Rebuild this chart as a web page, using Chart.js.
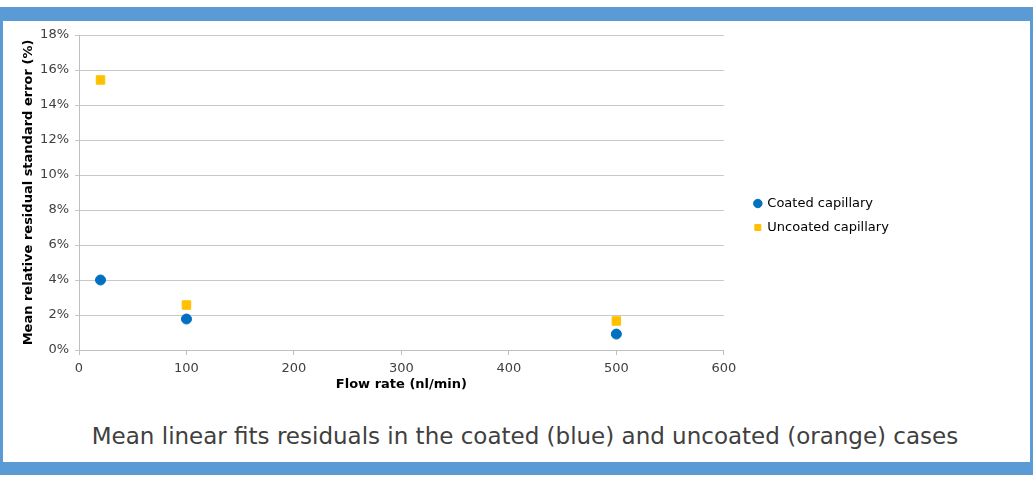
<!DOCTYPE html>
<html>
<head>
<meta charset="utf-8">
<script src="https://cdn.jsdelivr.net/npm/chart.js@4"></script>
<style>
  body { margin: 0; background: #fff; width: 1033px; height: 477px; overflow: hidden; position: relative; font-family: "DejaVu Sans", sans-serif; }
  /* blue frame round the figure */
  #frame { position: absolute; left: 0; top: 7px; width: 1033px; height: 468px; box-sizing: border-box;
           border-style: solid; border-color: #5b9bd5; border-width: 14px 3px 13px 3px; }
  #box { position: absolute; left: 3px; top: 21px; width: 1027px; height: 375px; }
  #caption { position: absolute; left: 0; top: 423px; width: 1050px; text-align: center; font-size: 23px; color: #404040; }
</style>
</head>
<body>
<div id="frame"></div>
<div id="box"><canvas id="myChart"></canvas></div>
<div id="caption">Mean linear fits residuals in the coated (blue) and uncoated (orange) cases</div>
<script>
// flow rates (nl/min)
const flowRates = [20, 100, 500];
// mean relative residual standard error, in %
const coated = [4.0, 1.77, 0.91];
const uncoated = [15.43, 2.57, 1.66];

const seriesNames = ["Coated capillary", "Uncoated capillary"];
const xTicks = [0, 100, 200, 300, 400, 500, 600];
const yTicks = [0, 2, 4, 6, 8, 10, 12, 14, 16, 18];

Chart.defaults.font.family = "DejaVu Sans";
Chart.defaults.font.size = 13;
Chart.defaults.color = "#404040";

function toPoints(ys) {
  return flowRates.map((x, i) => ({ x: x, y: ys[i] }));
}

const myChart = document.getElementById("myChart");

new Chart(myChart, {
  type: "scatter",
  data: {
    datasets: [
      {
        label: seriesNames[0],
        data: toPoints(coated),
        backgroundColor: "#0070c0",
        borderColor: "#0070c0",
        pointStyle: "circle",
        pointRadius: 5,
        pointHoverRadius: 5
      },
      {
        label: seriesNames[1],
        data: toPoints(uncoated),
        backgroundColor: "#ffc000",
        borderColor: "#ffc000",
        pointStyle: "rect",
        pointRadius: 6,
        pointHoverRadius: 6
      }
    ]
  },
  options: {
    responsive: true,
    maintainAspectRatio: false,
    animation: false,
    layout: { padding: { top: 14, right: 138, bottom: 0, left: 0 } },
    plugins: {
      tooltip: { enabled: false },
      legend: {
        position: "right",
        labels: {
          usePointStyle: true,
          boxWidth: 6,
          boxHeight: 6,
          padding: 11,
          color: "#000",
          font: { size: 13 }
        }
      }
    },
    scales: {
      x: {
        type: "linear",
        min: 0,
        max: 600,
        afterBuildTicks: s => { s.ticks = xTicks.map(v => ({ value: v })); },
        afterFit: s => { s.height = 46; },
        grid: { drawOnChartArea: false, color: "#bfbfbf", tickLength: 5 },
        border: { color: "#bfbfbf" },
        ticks: { padding: 6 },
        title: { display: true, text: "Flow rate (nl/min)", color: "#000", font: { size: 13, weight: "bold" }, padding: { top: 0, bottom: 4 } }
      },
      y: {
        min: 0,
        max: 18,
        afterBuildTicks: s => { s.ticks = yTicks.map(v => ({ value: v })); },
        afterFit: s => { s.width = 76; },
        grid: { color: "#c8c8c8", tickLength: 4 },
        border: { color: "#bfbfbf" },
        ticks: { padding: 6, callback: v => v + "%" },
        title: { display: true, text: "Mean relative residual standard error (%)", color: "#000", font: { size: 13, weight: "bold" }, padding: { top: 18, bottom: 0 } }
      },
      // empty axis, only to leave a gap before the legend
      gap: {
        position: "right",
        display: true,
        afterFit: s => { s.width = 20; },
        grid: { display: false },
        border: { display: false },
        ticks: { display: false }
      }
    }
  }
});
</script>
</body>
</html>
